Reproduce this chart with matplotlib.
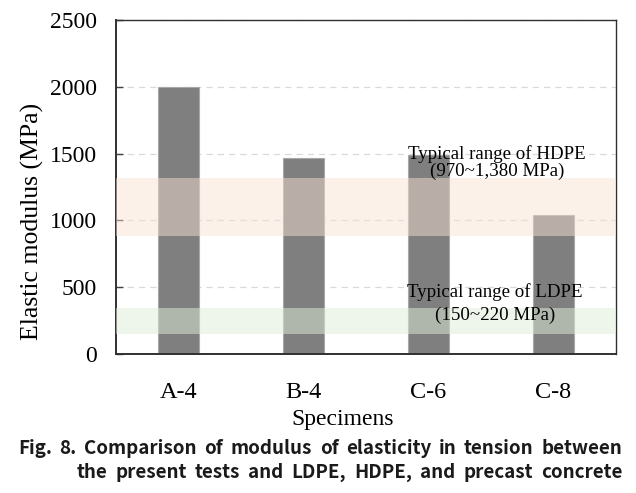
import matplotlib
matplotlib.use("Agg")
import matplotlib.pyplot as plt
from matplotlib import font_manager

categories = ["A-4", "B-4", "C-6", "C-8"]
modulus = [2000, 1468, 1490, 1037]
hdpe_band = (880, 1316)
ldpe_band = (149, 345)
hdpe_text = ["Typical range of HDPE", "(970~1,380 MPa)"]
ldpe_text = ["Typical range of LDPE", "(150~220 MPa)"]
yticks = [0, 500, 1000, 1500, 2000, 2500]
caption1 = "Fig. 8. Comparison of modulus of elasticity in tension between"
caption2 = "the present tests and LDPE, HDPE, and precast concrete"

serif = ["Liberation Serif", "DejaVu Serif"]
names = {f.name for f in font_manager.fontManager.ttflist}
cap_family = ["Liberation Sans Narrow"] if "Liberation Sans Narrow" in names else ["Noto Sans CJK KR"]
cap_family += ["DejaVu Sans"]

W, H = 636, 493
fig = plt.figure(figsize=(W / 100, H / 100), dpi=100)
ax = fig.add_axes([116 / W, (H - 354) / H, 500 / W, 334 / H])

x = list(range(len(categories)))
ax.set_axisbelow(True)
ax.yaxis.grid(True, linestyle=(0, (5, 4)), color="#d9d9d9", linewidth=0.9)
ax.bar(x, modulus, width=0.33, color="#7f7f7f", edgecolor="#a8a8a8", linewidth=0.8, zorder=2)
ax.axhspan(*hdpe_band, color=(249 / 255, 226 / 255, 211 / 255), alpha=0.48, lw=0, zorder=3)
ax.axhspan(*ldpe_band, color=(223 / 255, 237 / 255, 217 / 255), alpha=0.5, lw=0, zorder=3)

ax.set_xlim(-0.5, 3.5)
ax.set_ylim(0, 2500)
ax.set_yticks(yticks)
ax.set_xticks(x)
ax.set_xticklabels(categories, fontfamily=serif, fontsize=17.5)
ax.set_yticklabels([str(v) for v in yticks], fontfamily=serif, fontsize=17)
ax.tick_params(axis="y", direction="in", length=5, width=1, pad=14, color="#404040")
ax.tick_params(axis="x", length=0, pad=20)
for s in ax.spines.values():
    s.set_color("#303030")
    s.set_linewidth(1.0)
ax.spines["left"].set_linewidth(1.4)
ax.spines["bottom"].set_linewidth(1.4)

ax.set_xlabel("Specimens", fontfamily=serif, fontsize=17)
ax.xaxis.set_label_coords((343 - 116) / 500, -(419 - 354) / 334, transform=ax.transAxes)
ax.xaxis.label.set_va("center")
ax.set_ylabel("Elastic modulus (MPa)", fontfamily=serif, fontsize=18.5)
ax.yaxis.set_label_coords((32 - 116) / 500, (354 - 221.5) / 334)
ax.yaxis.label.set_va("center")

ax.text(2.548, 1500, hdpe_text[0], fontfamily=serif, fontsize=13.6, ha="center", va="center", zorder=5)
ax.text(2.548, 1366, hdpe_text[1], fontfamily=serif, fontsize=13.6, ha="center", va="center", zorder=5)
ax.text(2.53, 463, ldpe_text[0], fontfamily=serif, fontsize=13.6, ha="center", va="center", zorder=5)
ax.text(2.53, 291, ldpe_text[1], fontfamily=serif, fontsize=13.6, ha="center", va="center", zorder=5)

# justified caption
cap_font = dict(fontfamily=cap_family, fontweight="bold", fontsize=13.5, color="#1a1a1a")
renderer = fig.canvas.get_renderer()

def justify(line, x0, x1, ycen):
    words = line.split(" ")
    widths = []
    arts = []
    for w in words:
        t = fig.text(0, 0, w, va="center", ha="left", **cap_font)
        bb = t.get_window_extent(renderer=renderer)
        widths.append(bb.width)
        arts.append(t)
    gap = (x1 - x0 - sum(widths)) / (len(words) - 1)
    cx = x0
    for t, wdt in zip(arts, widths):
        t.set_position((cx / W, (H - ycen) / H))
        cx += wdt + gap

justify(caption1, 18, 622, 449)
justify(caption2, 77, 622, 472)

fig.savefig("out.png", dpi=100)
